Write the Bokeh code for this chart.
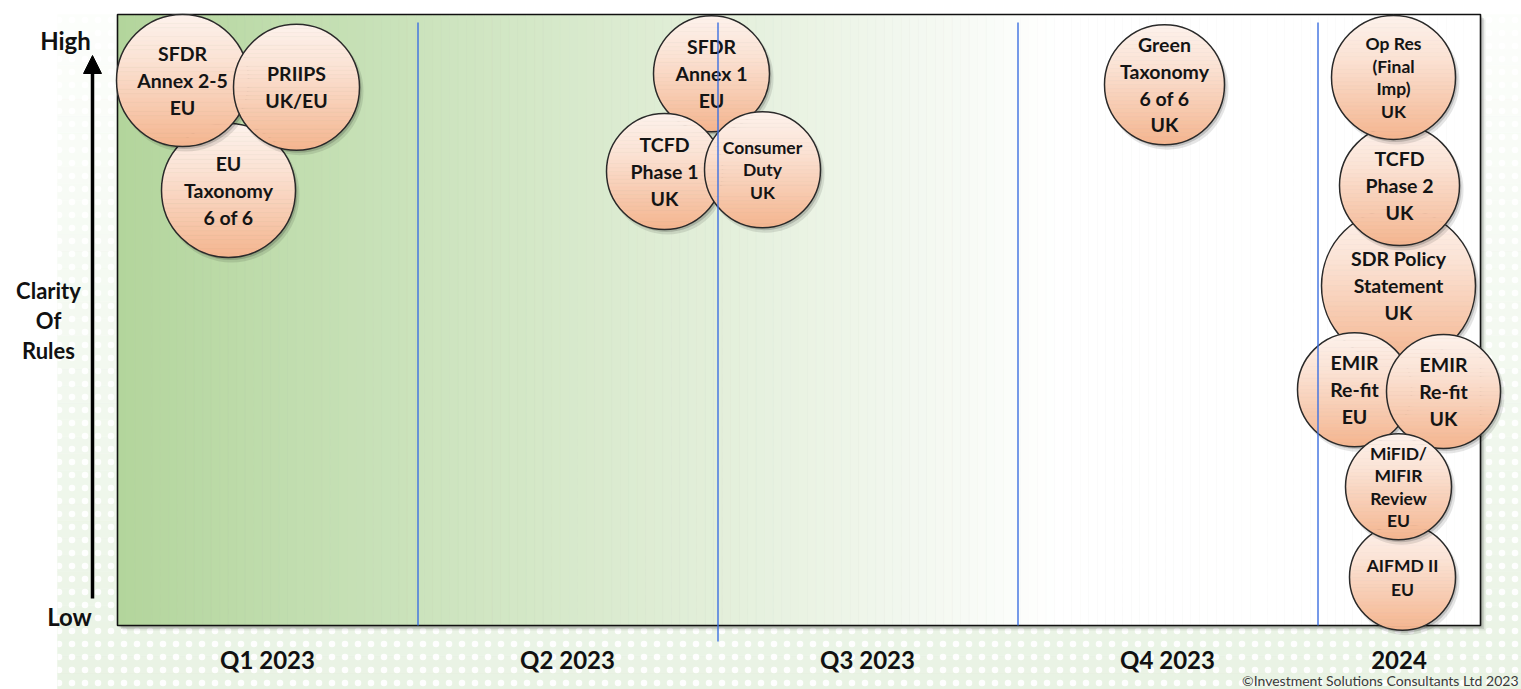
import numpy as np
from bokeh.plotting import figure
from bokeh.models import Range1d, Arrow, NormalHead
from bokeh.core.properties import value
from bokeh.embed import file_html
from bokeh.resources import INLINE

# ---------------- data ----------------
quarter_labels = ["Q1 2023", "Q2 2023", "Q3 2023", "Q4 2023", "2024"]
quarter_start = [0.0, 3.0, 6.0, 9.0, 12.0]      # months since Jan 2023
quarter_end = [3.0, 6.0, 9.0, 12.0, 13.63]

# bubbles, listed back-to-front
bubble_labels = [
    "EU\nTaxonomy\n6 of 6",
    "SFDR\nAnnex 2-5\nEU",
    "PRIIPS\nUK/EU",
    "SFDR\nAnnex 1\nEU",
    "TCFD\nPhase 1\nUK",
    "Consumer\nDuty\nUK",
    "Green\nTaxonomy\n6 of 6\nUK",
    "AIFMD II\nEU",
    "SDR Policy\nStatement\nUK",
    "TCFD\nPhase 2\nUK",
    "Op Res\n(Final\nImp)\nUK",
    "EMIR\nRe-fit\nEU",
    "EMIR\nRe-fit\nUK",
    "MiFID/\nMIFIR\nReview\nEU",
]
bubble_month = [1.11, 0.65, 1.79, 5.94, 5.47, 6.45, 10.47, 12.85, 12.81, 12.82, 12.76, 12.37, 13.26, 12.81]
bubble_clarity = [0.712, 0.892, 0.881, 0.903, 0.743, 0.746, 0.885, 0.079, 0.556, 0.720, 0.897, 0.386, 0.383, 0.227]
bubble_radius = [0.67, 0.66, 0.63, 0.58, 0.58, 0.58, 0.60, 0.53, 0.77, 0.60, 0.62, 0.57, 0.57, 0.53]

clarity_labels = ["High", "Low"]
clarity_values = [0.957, 0.015]
axis_title = ["Clarity", "Of", "Rules"]
copyright_text = "\u00a9Investment Solutions Consultants Ltd 2023"

# ---------------- layout / style ----------------
W, H = 1521, 689
PX_X = 100.0          # pixels per month
PX_Y = 611.0          # pixels per clarity unit (panel height)
X0 = -1.17
X1 = X0 + W / PX_X
Y1 = 625.0 / PX_Y
Y0 = Y1 - H / PX_Y

def dx(px):
    return px / PX_X

def dy(px):
    return px / PX_Y

FONT = value("Lato")

def hex2rgb(h):
    h = h.lstrip("#")
    return np.array([int(h[i:i + 2], 16) for i in (0, 2, 4)], dtype=float)

def rgb2hex(c):
    c = np.clip(np.round(c), 0, 255).astype(int)
    return "#%02x%02x%02x" % tuple(c)

def grad(stops, t):
    pos = [s[0] for s in stops]
    cols = [hex2rgb(s[1]) for s in stops]
    if t <= pos[0]:
        return rgb2hex(cols[0])
    for i in range(1, len(pos)):
        if t <= pos[i]:
            f = (t - pos[i - 1]) / (pos[i] - pos[i - 1])
            return rgb2hex(cols[i - 1] * (1 - f) + cols[i] * f)
    return rgb2hex(cols[-1])

p = figure(width=W, height=H, x_range=Range1d(X0, X1), y_range=Range1d(Y0, Y1),
           output_backend="svg", toolbar_location=None, min_border=0)
p.axis.visible = False
p.grid.visible = False
p.outline_line_color = None
p.background_fill_color = "white"
p.border_fill_color = "white"

# ---- textured page background ----
bg_left = X0 + dx(57)
n_bg = 40
bg_edges = np.linspace(Y0, Y1 - dy(14), n_bg + 1)
bg_cols = [grad([(Y0, "#e9f3e4"), (0.15, "#eef6ea"), (0.7, "#f7fbf5"), (Y1, "#fdfefc")],
                0.5 * (bg_edges[i] + bg_edges[i + 1])) for i in range(n_bg)]
p.quad(left=bg_left, right=X1, bottom=bg_edges[:-1], top=bg_edges[1:],
       fill_color=bg_cols, line_color=bg_cols, line_width=0.5)
p.quad(left=bg_left, right=X1, bottom=Y0, top=Y1 - dy(14), fill_alpha=0, line_color=None,
       hatch_pattern="dot", hatch_color="white", hatch_scale=13, hatch_weight=6, hatch_alpha=0.95)

# ---- panel ----
panel_l, panel_r = quarter_start[0], quarter_end[-1]
for off, a in [(5, 0.06), (3.5, 0.10), (2, 0.14)]:
    p.quad(left=panel_l + dx(off), right=panel_r + dx(off), bottom=0 - dy(off), top=1 - dy(off),
           fill_color="black", fill_alpha=a, line_color=None)
n_pan = 160
pan_edges = np.linspace(panel_l, panel_r, n_pan + 1)
pan_stops = [(0.0, "#b3d59c"), (3.0, "#cbe3bc"), (6.0, "#e3efda"), (8.0, "#f3f8f0"),
             (9.4, "#ffffff"), (14.0, "#ffffff")]
pan_cols = [grad(pan_stops, 0.5 * (pan_edges[i] + pan_edges[i + 1])) for i in range(n_pan)]
p.quad(left=pan_edges[:-1], right=pan_edges[1:], bottom=0, top=1,
       fill_color=pan_cols, line_color=pan_cols, line_width=0.6)
p.quad(left=panel_l, right=panel_r, bottom=0, top=1, fill_alpha=0,
       line_color="#111111", line_width=1.6)

# ---- bubbles ----
BUB_TOP, BUB_BOT = "#fdf2ec", "#f4b58f"
compact = {"Op Res\n(Final\nImp)\nUK", "Consumer\nDuty\nUK", "MiFID/\nMIFIR\nReview\nEU", "AIFMD II\nEU"}

for lab, cx, cy, r in zip(bubble_labels, bubble_month, bubble_clarity, bubble_radius):
    ry = r * PX_X / PX_Y
    # shadow
    p.circle(x=[cx + dx(3)], y=[cy - dy(4)], radius=r + dx(1), fill_color="black",
             fill_alpha=0.10, line_color=None)
    p.circle(x=[cx + dx(2)], y=[cy - dy(2.5)], radius=r, fill_color="black",
             fill_alpha=0.16, line_color=None)
    # gradient body
    n, m = 30, 7
    xs, ys, cols = [], [], []
    for k in range(n):
        t_top = 1 - 2 * k / n
        t_bot = 1 - 2 * (k + 1) / n
        ts = np.linspace(t_top, t_bot, m)
        half = np.sqrt(np.clip(1 - ts ** 2, 0, None))
        xs.append(list(np.concatenate([cx + r * half, (cx - r * half)[::-1]])))
        ys.append(list(np.concatenate([cy + ry * ts, (cy + ry * ts)[::-1]])))
        cols.append(grad([(0, BUB_TOP), (0.35, "#fbe2d4"), (1, BUB_BOT)], (k + 0.5) / n))
    p.patches(xs=xs, ys=ys, fill_color=cols, line_color=cols, line_width=0.6)
    p.circle(x=[cx], y=[cy], radius=r, fill_alpha=0, line_color="#2a2a2a", line_width=1.5)
    # text
    lines = lab.split("\n")
    if lab in compact:
        fs, ls = "17.5px", (24.0 if len(lines) == 2 else 22.5)
    else:
        fs, ls = "19.5px", 26.8
    ny = len(lines)
    ty = [cy + dy(((ny - 1) / 2 - i) * ls) for i in range(ny)]
    p.text(x=[cx] * ny, y=ty, text=lines, text_align="center", text_baseline="middle",
           text_font=FONT, text_font_style="bold", text_font_size=fs, text_color="#141414")

# ---- quarter separators (drawn over bubbles) ----
for i, qs in enumerate(quarter_start[1:]):
    bottom = -dy(16) if quarter_labels[i + 1] == "Q3 2023" else 0
    p.segment(x0=[qs + dx(0.5)], y0=[bottom], x1=[qs + dx(0.5)], y1=[1 - dy(8)],
              line_color="#3d6fe0", line_width=1.4)

# ---- quarter labels ----
q_mid = [0.5 * (a + b) for a, b in zip(quarter_start, quarter_end)]
p.text(x=q_mid, y=[-dy(34)] * len(q_mid), text=quarter_labels, text_align="center",
       text_baseline="middle", text_font=FONT, text_font_style="bold",
       text_font_size="24px", text_color="#111111")

# ---- clarity axis ----
p.add_layout(Arrow(end=NormalHead(size=18, fill_color="black", line_color="black", line_width=1),
                   x_start=-dx(25), y_start=dy(27), x_end=-dx(25), y_end=dy(570),
                   line_color="black", line_width=3.5))
p.text(x=[-dx(52), -dx(48)], y=clarity_values, text=clarity_labels, text_align="center",
       text_baseline="middle", text_font=FONT, text_font_style="bold",
       text_font_size="24px", text_color="#111111")
p.text(x=[-dx(69)] * 3, y=[0.5 + dy(30), 0.5, 0.5 - dy(30)], text=axis_title, text_align="center",
       text_baseline="middle", text_font=FONT, text_font_style="bold",
       text_font_size="22px", text_color="#111111")

# ---- copyright ----
p.text(x=[X1 - dx(3)], y=[Y0 + dy(1)], text=[copyright_text], text_align="right",
       text_baseline="bottom", text_font=FONT, text_font_size="14px", text_color="#3a3a3a")

open("out.html", "w").write(file_html(p, INLINE))
